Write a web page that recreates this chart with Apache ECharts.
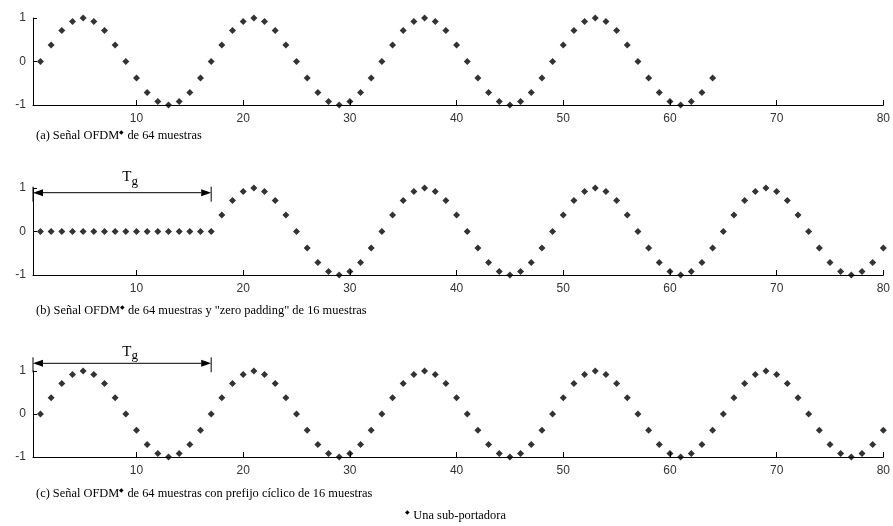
<!DOCTYPE html>
<html>
<head>
<meta charset="utf-8">
<script src="https://cdn.jsdelivr.net/npm/echarts@6/dist/echarts.min.js"></script>
<style>
  html, body { margin: 0; padding: 0; background: #fff; }
  #chart { width: 893px; height: 526px; }
</style>
</head>
<body>
<div id="chart"></div>
<script>
// Sample axis: samples 1..80, ticks every 10
const xMin = 0.3;
const xMax = 80;
const xTicks = [10, 20, 30, 40, 50, 60, 70, 80];
const yTicks = [-1, 0, 1];

// (a) 64-sample OFDM symbol (one sub-carrier)
const signalA = [
  0, 0.38, 0.71, 0.92, 1, 0.92, 0.71, 0.38, 0, -0.38, -0.71, -0.92, -1, -0.92, -0.71, -0.38,
  0, 0.38, 0.71, 0.92, 1, 0.92, 0.71, 0.38, 0, -0.38, -0.71, -0.92, -1, -0.92, -0.71, -0.38,
  0, 0.38, 0.71, 0.92, 1, 0.92, 0.71, 0.38, 0, -0.38, -0.71, -0.92, -1, -0.92, -0.71, -0.38,
  0, 0.38, 0.71, 0.92, 1, 0.92, 0.71, 0.38, 0, -0.38, -0.71, -0.92, -1, -0.92, -0.71, -0.38
];

// (b) 16 zero samples followed by the 64-sample symbol
const signalB = [
  0, 0, 0, 0, 0, 0, 0, 0, 0, 0, 0, 0, 0, 0, 0, 0,
  0, 0.38, 0.71, 0.92, 1, 0.92, 0.71, 0.38, 0, -0.38, -0.71, -0.92, -1, -0.92, -0.71, -0.38,
  0, 0.38, 0.71, 0.92, 1, 0.92, 0.71, 0.38, 0, -0.38, -0.71, -0.92, -1, -0.92, -0.71, -0.38,
  0, 0.38, 0.71, 0.92, 1, 0.92, 0.71, 0.38, 0, -0.38, -0.71, -0.92, -1, -0.92, -0.71, -0.38,
  0, 0.38, 0.71, 0.92, 1, 0.92, 0.71, 0.38, 0, -0.38, -0.71, -0.92, -1, -0.92, -0.71, -0.38
];

// (c) 16-sample cyclic prefix followed by the 64-sample symbol
const signalC = [
  0, 0.38, 0.71, 0.92, 1, 0.92, 0.71, 0.38, 0, -0.38, -0.71, -0.92, -1, -0.92, -0.71, -0.38,
  0, 0.38, 0.71, 0.92, 1, 0.92, 0.71, 0.38, 0, -0.38, -0.71, -0.92, -1, -0.92, -0.71, -0.38,
  0, 0.38, 0.71, 0.92, 1, 0.92, 0.71, 0.38, 0, -0.38, -0.71, -0.92, -1, -0.92, -0.71, -0.38,
  0, 0.38, 0.71, 0.92, 1, 0.92, 0.71, 0.38, 0, -0.38, -0.71, -0.92, -1, -0.92, -0.71, -0.38,
  0, 0.38, 0.71, 0.92, 1, 0.92, 0.71, 0.38, 0, -0.38, -0.71, -0.92, -1, -0.92, -0.71, -0.38
];

// Guard interval Tg ends at this sample
const guardEnd = 17;

const captionParts = [
  ['(a) Señal OFDM', ' de 64 muestras'],
  ['(b) Señal OFDM', ' de 64 muestras y "zero padding" de 16 muestras'],
  ['(c) Señal OFDM', ' de 64 muestras con prefijo cíclico de 16 muestras']
];
const legendLabel = 'Una sub-portadora';

const signals = [signalA, signalB, signalC];
const grids = [
  { left: 33, right: 9, top: 18, height: 87 },
  { left: 33, right: 9, top: 188, height: 87 },
  { left: 33, right: 9, top: 371, height: 86 }
];

const chart = echarts.init(document.getElementById('chart'), null, { renderer: 'canvas' });

const sansFont = 'Liberation Sans, Arial, sans-serif';
const serifFont = 'Liberation Serif, Times New Roman, serif';

const option = {
  animation: false,
  backgroundColor: '#fff',
  grid: grids,
  xAxis: grids.map((g, i) => ({
    type: 'value',
    gridIndex: i,
    min: xMin,
    max: xMax,
    axisLine: { show: true, onZero: false, lineStyle: { color: '#000', width: 1 } },
    axisTick: { show: true, inside: true, length: 5, customValues: xTicks, lineStyle: { color: '#000' } },
    axisLabel: { customValues: xTicks, color: '#333', fontFamily: sansFont, fontSize: 12, margin: 8 },
    splitLine: { show: false }
  })),
  yAxis: grids.map((g, i) => ({
    type: 'value',
    gridIndex: i,
    min: -1,
    max: 1,
    interval: 1,
    axisLine: { show: true, onZero: false, lineStyle: { color: '#000', width: 1 } },
    axisTick: { show: true, inside: true, length: 4, lineStyle: { color: '#000' } },
    axisLabel: { color: '#333', fontFamily: sansFont, fontSize: 12, margin: 7 },
    splitLine: { show: false }
  })),
  series: signals.map((s, i) => ({
    type: 'scatter',
    xAxisIndex: i,
    yAxisIndex: i,
    symbol: 'diamond',
    symbolSize: 7,
    clip: false,
    itemStyle: { color: '#000' },
    data: s.map((v, k) => [k + 1, v])
  }))
};

chart.setOption(option);

// Annotations: guard-interval arrows, captions and the marker key
const graphics = [];

function captionText(parts) {
  return '{t|' + parts[0] + '}{s|◆}{t|' + parts[1] + '}';
}
const captionRich = {
  t: { fontFamily: serifFont, fontSize: 12.4, color: '#000', lineHeight: 14 },
  s: { fontFamily: sansFont, fontSize: 5.5, color: '#000', verticalAlign: 'top', lineHeight: 6 }
};
const captionY = [136, 311, 494];
captionParts.forEach((p, i) => {
  graphics.push({
    type: 'text',
    left: 36,
    top: captionY[i] - 7,
    style: { text: captionText(p), rich: captionRich }
  });
});

graphics.push({
  type: 'text',
  left: 405,
  top: 509,
  style: { text: '{s|◆} {t|' + legendLabel + '}', rich: captionRich }
});

function addGuardArrow(axisIndex, offsetFromTop, labelGap) {
  const xa = chart.convertToPixel({ xAxisIndex: axisIndex }, xMin);
  const xb = chart.convertToPixel({ xAxisIndex: axisIndex }, guardEnd);
  const yTop = chart.convertToPixel({ yAxisIndex: axisIndex }, 1);
  const y = yTop + offsetFromTop;
  const head = 10, half = 3.5;
  const lineStyle = { stroke: '#000', lineWidth: 1 };
  graphics.push({ type: 'line', shape: { x1: xa + head, y1: y, x2: xb - head, y2: y }, style: lineStyle });
  graphics.push({ type: 'polygon', shape: { points: [[xa, y], [xa + head, y - half], [xa + head, y + half]] }, style: { fill: '#000' } });
  graphics.push({ type: 'polygon', shape: { points: [[xb, y], [xb - head, y - half], [xb - head, y + half]] }, style: { fill: '#000' } });
  graphics.push({ type: 'line', shape: { x1: xa, y1: y - 6, x2: xa, y2: y + 9 }, style: lineStyle });
  graphics.push({ type: 'line', shape: { x1: xb, y1: y - 6, x2: xb, y2: y + 9 }, style: lineStyle });
  graphics.push({
    type: 'text',
    x: (xa + xb) / 2 + 8,
    y: y - labelGap,
    style: {
      text: '{t|T}{g|g}',
      textAlign: 'center',
      textVerticalAlign: 'middle',
      rich: {
        t: { fontFamily: serifFont, fontSize: 15, color: '#000', lineHeight: 18, verticalAlign: 'top' },
        g: { fontFamily: serifFont, fontSize: 13, color: '#000', lineHeight: 15, verticalAlign: 'bottom', padding: [6, 0, 0, 0] }
      }
    }
  });
}

addGuardArrow(1, 4.7, 14);
addGuardArrow(2, -7.7, 10);

chart.setOption({ graphic: graphics });
</script>
</body>
</html>
